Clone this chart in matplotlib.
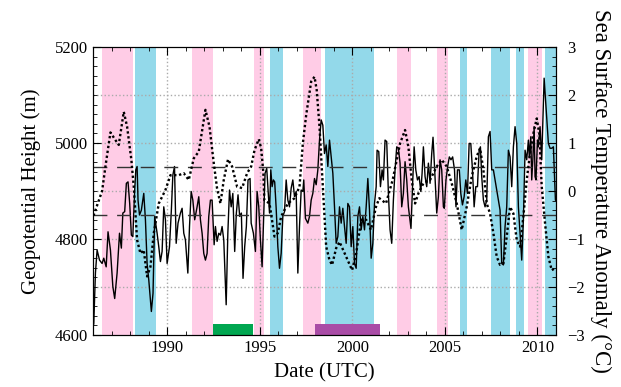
import matplotlib
matplotlib.use("Agg")
import matplotlib.pyplot as plt
from matplotlib.ticker import MultipleLocator

plt.rcParams["font.family"] = ["Liberation Serif", "DejaVu Serif"]

# ENSO phases (decimal years)
el_nino = [(1986.50, 1988.17), (1991.33, 1992.50), (1994.67, 1995.25),
           (1997.33, 1998.33), (2002.42, 2003.17), (2004.58, 2005.17),
           (2009.50, 2010.25)]
la_nina = [(1988.25, 1989.42), (1995.58, 1996.25), (1998.50, 2001.17),
           (2005.83, 2006.17), (2007.50, 2008.50), (2008.84, 2009.26),
           (2010.42, 2011.00)]

# highlighted periods at the bottom
period_spans = [(1992.50, 1994.63), (1997.99, 2001.50)]
period_colors = ["#00a650", "#a94ca6"]

# geopotential height (m)
gph_year = [
    1986.00, 1986.04, 1986.13, 1986.22, 1986.35, 1986.49, 1986.58, 1986.71, 1986.81, 1986.94,
    1987.07, 1987.17, 1987.30, 1987.43, 1987.53, 1987.61, 1987.71, 1987.80, 1987.89, 1987.98,
    1988.07, 1988.15, 1988.24, 1988.31, 1988.38, 1988.43, 1988.51, 1988.61, 1988.74, 1988.83,
    1988.92, 1989.01, 1989.15, 1989.24, 1989.33, 1989.46, 1989.55, 1989.64, 1989.73, 1989.82,
    1989.91, 1990.00, 1990.13, 1990.23, 1990.31, 1990.40, 1990.49, 1990.59, 1990.72, 1990.81,
    1990.90, 1990.99, 1991.12, 1991.21, 1991.30, 1991.39, 1991.49, 1991.62, 1991.71, 1991.80,
    1991.89, 1991.98, 1992.07, 1992.16, 1992.25, 1992.34, 1992.43, 1992.54, 1992.61, 1992.70,
    1992.79, 1992.88, 1992.97, 1993.06, 1993.19, 1993.28, 1993.37, 1993.46, 1993.55, 1993.65,
    1993.74, 1993.83, 1993.92, 1994.01, 1994.10, 1994.19, 1994.28, 1994.37, 1994.48,
    1994.54, 1994.66, 1994.77, 1994.86, 1994.95, 1995.04, 1995.13, 1995.20, 1995.29, 1995.38,
    1995.45, 1995.53, 1995.60, 1995.67, 1995.74, 1995.81, 1995.89, 1995.98, 1996.07, 1996.16,
    1996.25, 1996.34, 1996.43, 1996.52, 1996.61, 1996.70, 1996.79, 1996.88, 1996.97, 1997.06,
    1997.15, 1997.24, 1997.33, 1997.38, 1997.47, 1997.60, 1997.69, 1997.78, 1997.87, 1997.96,
    1998.05, 1998.14, 1998.23, 1998.32, 1998.41, 1998.50, 1998.59, 1998.68, 1998.77, 1998.86,
    1998.95, 1999.04, 1999.13, 1999.22, 1999.31, 1999.40, 1999.49, 1999.58, 1999.67, 1999.76,
    1999.85, 1999.94, 2000.03, 2000.12, 2000.21, 2000.30, 2000.39, 2000.48, 2000.57, 2000.66,
    2000.75, 2000.84, 2000.93, 2001.02, 2001.11, 2001.20, 2001.29, 2001.34, 2001.43, 2001.52,
    2001.61, 2001.68, 2001.77, 2001.86, 2001.95, 2002.04, 2002.13, 2002.22, 2002.31, 2002.40,
    2002.49, 2002.58, 2002.67, 2002.76,
    2002.85, 2002.94, 2003.03, 2003.17, 2003.26, 2003.34, 2003.43, 2003.52, 2003.61, 2003.70,
    2003.77, 2003.84, 2003.93, 2004.02, 2004.11, 2004.20, 2004.29, 2004.36, 2004.45, 2004.56,
    2004.65, 2004.74, 2004.83, 2004.92, 2004.97, 2005.06, 2005.15, 2005.24, 2005.33, 2005.42,
    2005.52, 2005.60, 2005.68, 2005.78, 2005.86, 2005.95, 2006.04, 2006.13, 2006.22, 2006.31,
    2006.40, 2006.49, 2006.58, 2006.67, 2006.76, 2006.85, 2006.92, 2006.99, 2007.08, 2007.17,
    2007.26, 2007.35, 2007.44, 2007.53, 2007.62, 2007.71, 2007.80, 2007.89, 2007.98, 2008.07,
    2008.16, 2008.25, 2008.34, 2008.43, 2008.52, 2008.61, 2008.70, 2008.79, 2008.88, 2008.97,
    2009.06, 2009.15, 2009.24, 2009.33, 2009.42, 2009.51, 2009.56, 2009.64, 2009.69, 2009.75,
    2009.82, 2009.87, 2009.92, 2010.00, 2010.05, 2010.14, 2010.23, 2010.36, 2010.47, 2010.59,
    2010.68, 2010.77, 2010.86, 2010.97, 2011.00,
]
gph = [
    4615, 4624, 4729, 4777, 4756, 4749, 4760, 4742, 4815, 4777,
    4701, 4676, 4729, 4812, 4781, 4854, 4857, 4916, 4919, 4874,
    4808, 4805, 4895, 4944, 4951, 4881, 4850, 4860, 4895, 4840,
    4749, 4715, 4649, 4687, 4847, 4812, 4784, 4753, 4774, 4867,
    4840, 4749, 4784, 4860, 4933, 4951, 4791, 4833, 4854, 4864,
    4812, 4798, 4729, 4826, 4899, 4881, 4840, 4867, 4888, 4840,
    4812, 4770, 4756, 4770, 4847, 4881, 4881, 4788, 4826, 4795,
    4812, 4808, 4826, 4798, 4663, 4812, 4902, 4867, 4895, 4774,
    4854, 4892, 4847, 4854, 4718, 4784, 4826, 4923, 4926,
    4833, 4812, 4774, 4899, 4867, 4798, 4742, 4826, 4937, 4947,
    4902, 4854, 4944, 4909, 4923, 4919, 4864, 4784, 4739, 4770,
    4847, 4857, 4923, 4881, 4867, 4906, 4923, 4888, 4899, 4729,
    4826, 4902, 4899, 4923, 4843, 4833, 4847, 4881, 4895, 4926,
    4913, 4944, 5006, 5048, 5037, 4978, 4996, 4951, 5006, 4971,
    4937, 4867, 4791, 4805, 4867, 4833, 4864, 4826, 4791, 4874,
    4867, 4784, 4826, 4749, 4739, 4847, 4867, 4819, 4847, 4819,
    4867, 4926, 4860, 4760, 4791, 4874, 4909, 4985, 4982, 4909,
    4944, 4923, 5006, 5003, 4895, 4819, 4791, 4881, 4944, 4992,
    4989, 4958, 4867, 4895,
    4961, 4923, 4867, 4822, 4916, 4992, 4944, 4923, 4930, 4899,
    4937, 4992, 4930, 4909, 4958, 4916, 4978, 5012, 4944, 4854,
    4888, 4965, 4944, 4867, 4864, 4923, 4951, 4971, 4965, 4971,
    4944, 4867, 4944, 4944, 4895, 4871, 4888, 4923, 4895, 4999,
    4999, 4944, 4867, 4909, 4909, 4985, 4992, 4930, 4881, 4867,
    4881, 5013, 5024, 4944, 4944, 4923, 4902, 4881, 4860, 4749,
    4746, 4826, 4867, 4985, 4971, 4909, 4992, 5034, 4999, 4867,
    4812, 4756, 4840, 4985, 4965, 5006, 4971, 5013, 4923, 4965,
    5034, 4930, 4923, 5006, 4992, 5034, 4965, 5135, 5069, 4999,
    4989, 4989, 4992, 4881, 4880,
]

# sea surface temperature anomaly (deg C)
sst_year = [
    1986.00, 1986.04, 1986.49, 1986.67, 1986.94, 1987.21, 1987.39, 1987.66, 1987.84, 1988.07,
    1988.20, 1988.38, 1988.56, 1988.74, 1988.92, 1989.10, 1989.28, 1989.55, 1989.91, 1990.18,
    1990.63, 1990.90, 1991.17, 1991.44, 1991.71, 1992.07, 1992.29, 1992.52, 1992.70, 1992.88,
    1993.06, 1993.29, 1993.51, 1993.78, 1994.05, 1994.32, 1994.54, 1994.72, 1994.95, 1995.08,
    1995.20, 1995.25, 1995.53, 1995.80, 1995.98, 1996.16, 1996.52, 1996.88, 1997.15, 1997.33,
    1997.51, 1997.78, 1997.96, 1998.08, 1998.23, 1998.41, 1998.59, 1998.77, 1998.91, 1999.13,
    1999.31, 1999.67, 1999.99, 2000.21, 2000.48, 2000.75, 2001.01, 2001.28, 2001.46, 2001.82,
    2002.18, 2002.45, 2002.58, 2002.85, 2003.03, 2003.21, 2003.39, 2003.57, 2003.84, 2004.20,
    2004.56, 2004.83, 2005.10, 2005.37, 2005.64, 2005.91, 2006.18, 2006.45, 2006.72, 2006.90,
    2007.08, 2007.26, 2007.44, 2007.62, 2007.80, 2007.98, 2008.16, 2008.34, 2008.52, 2008.70,
    2008.88, 2009.06, 2009.24, 2009.42, 2009.60, 2009.78, 2009.96, 2010.10, 2010.23, 2010.41,
    2010.59, 2010.77, 2010.95, 2011.00,
]
sst = [
    -0.50, -0.50, 0.00, 0.51, 1.22, 1.06, 0.96, 1.65, 1.34, 0.65,
    0.09, -1.02, -1.30, -1.23, -1.78, -1.58, -0.88, -0.26, 0.02, 0.33,
    0.33, 0.37, 0.23, 0.68, 0.82, 1.69, 1.34, 0.58, 0.05, -0.26,
    0.23, 0.66, 0.51, 0.09, 0.06, 0.37, 0.51, 0.85, 1.08, 0.89,
    0.37, -0.19, -0.26, -0.95, -0.88, -0.53, -0.26, -0.15, 0.09, 0.99,
    1.58, 2.28, 2.38, 2.10, 1.34, 0.09, -1.16, -1.44, -1.54, -1.19,
    -1.06, -1.37, -1.65, -1.30, -0.60, -0.60, -0.81, -0.33, -0.15, -0.26,
    0.23, 0.74, 0.99, 1.27, 0.92, 0.23, -0.26, -0.05, 0.16, 0.23,
    0.51, 0.65, 0.51, 0.16, -0.26, -0.81, -0.33, 0.30, 0.72, 0.89,
    0.44, -0.26, -0.47, -0.88, -1.37, -1.54, -1.51, -0.95, -0.33, -0.47,
    -1.02, -1.16, -0.53, 0.23, 0.79, 1.20, 1.51, 1.20, 0.09, -0.67,
    -1.37, -1.65, -1.61, -1.60,
]

enso_threshold = [0.5, -0.5]

fig = plt.figure(figsize=(6.21, 3.87), dpi=100)
ax = fig.add_axes([0.1498, 0.1344, 0.7455, 0.7442])

for start, end in el_nino:
    ax.axvspan(start, end, color="#ffcce6", lw=0, zorder=0.2)
for start, end in la_nina:
    ax.axvspan(start, end, color="#93d9ea", lw=0, zorder=0.2)

for (start, end), color in zip(period_spans, period_colors):
    ax.bar(start, 23, width=end - start, bottom=4600, align="edge",
           color=color, lw=0, zorder=1.5)

ax.plot(gph_year, gph, color="black", lw=1.0, zorder=3)

ax.set_xlim(1986, 2011)
ax.set_ylim(4600, 5200)
ax.xaxis.set_major_locator(MultipleLocator(5))
ax.xaxis.set_minor_locator(MultipleLocator(1))
ax.yaxis.set_major_locator(MultipleLocator(200))
ax.yaxis.set_minor_locator(MultipleLocator(20))
ax.set_axisbelow(True)
ax.grid(True, which="major", axis="x", color="#aaaaaa", ls=":", lw=1)
for level in range(4700, 5200, 100):
    ax.axhline(level, color="#aaaaaa", ls=":", lw=1, zorder=0.5)
ax.tick_params(which="both", direction="in", top=True, labelsize=12)
ax.tick_params(which="major", length=6)
ax.tick_params(which="minor", length=3)
ax.set_xlabel("Date (UTC)", fontsize=15, labelpad=5)
ax.set_ylabel("Geopotential Height (m)", fontsize=15, labelpad=10)

ax2 = ax.twinx()
ax2.set_ylim(-3, 3)
for level in enso_threshold:
    ax2.axhline(level, color="#333333", lw=1, dashes=(10, 7), zorder=1)
ax2.plot(sst_year, sst, color="black", lw=1.7, ls=(0, (1, 1.1)), zorder=2)
ax2.yaxis.set_major_locator(MultipleLocator(1))
ax2.yaxis.set_minor_locator(MultipleLocator(0.2))
ax2.tick_params(which="both", direction="in", labelsize=12, pad=8)
ax2.tick_params(which="major", length=6)
ax2.tick_params(which="minor", length=3)
ax2.set_ylabel("Sea Surface Temperature Anomaly (\u00b0C)", fontsize=16.5,
               rotation=270, va="bottom", labelpad=4)

fig.savefig("out.png", dpi=100)
